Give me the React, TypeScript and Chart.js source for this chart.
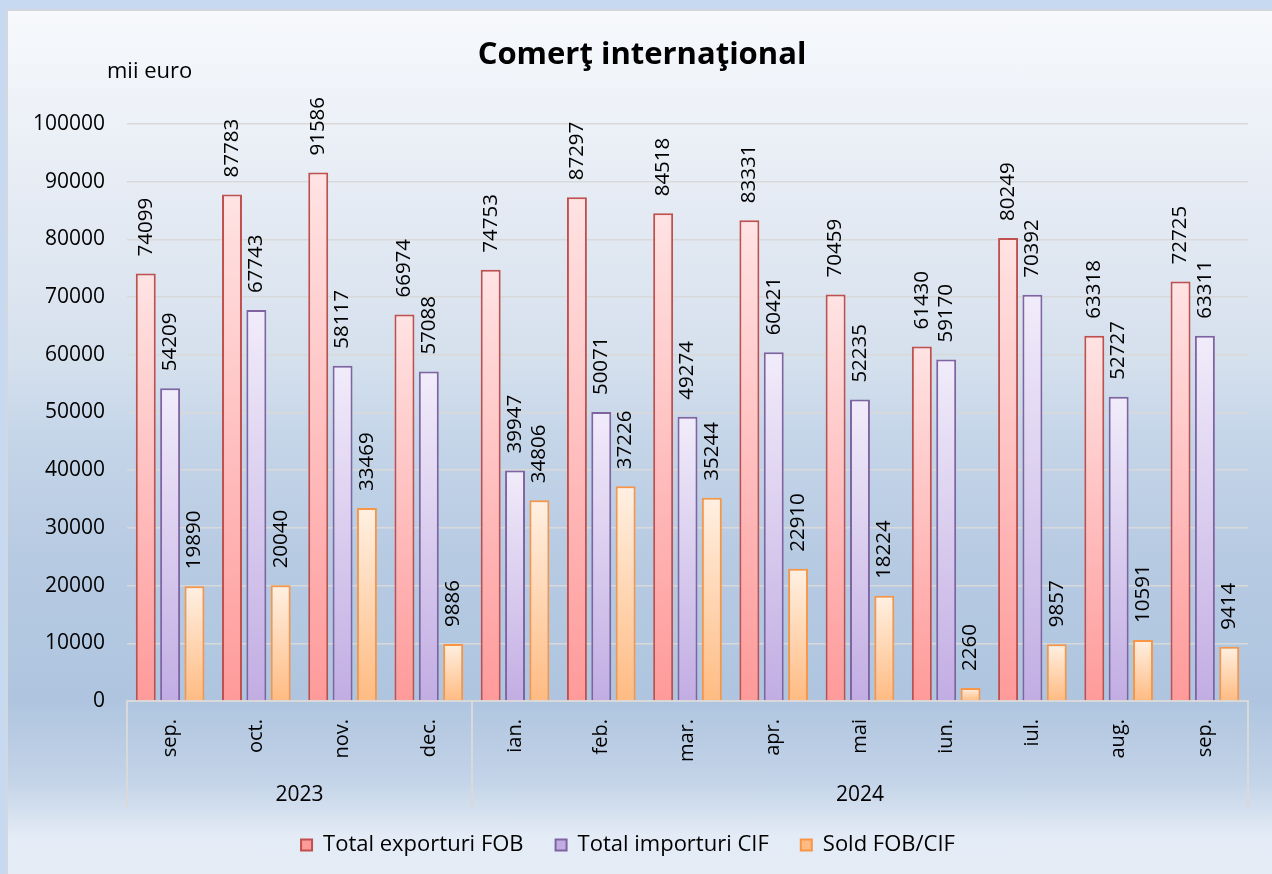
import React, { useEffect, useRef } from 'react';
import { Chart, registerables } from 'chart.js';

Chart.register(...registerables);

// ---- data ----
const months = ['sep.', 'oct.', 'nov.', 'dec.', 'ian.', 'feb.', 'mar.', 'apr.', 'mai', 'iun.', 'iul.', 'aug.', 'sep.'];
const years = ['2023', '2024'];
const monthsPerYear = [4, 9];
const exportsFOB = [74099, 87783, 91586, 66974, 74753, 87297, 84518, 83331, 70459, 61430, 80249, 63318, 72725];
const importsCIF = [54209, 67743, 58117, 57088, 39947, 50071, 49274, 60421, 52235, 59170, 70392, 52727, 63311];
const soldFOBCIF = [19890, 20040, 33469, 9886, 34806, 37226, 35244, 22910, 18224, 2260, 9857, 10591, 9414];
const seriesNames = ['Total exporturi FOB', 'Total importuri CIF', 'Sold FOB/CIF'];
const yMin = 0;
const yMax = 100000;
const yStep = 10000;
const titleText = 'Comerţ internaţional';
const unitText = 'mii euro';

const FONT = '"Open Sans", "Noto Sans", sans-serif';

function barGradient(top: string, bottom: string, fallback: string) {
  return (c: any) => {
    const chart = c.chart;
    const ys = chart.scales && chart.scales.y;
    if (c.type !== 'data' || !ys || !chart.chartArea) return fallback;
    const t = ys.getPixelForValue(c.raw);
    const b = ys.getPixelForValue(0);
    if (!isFinite(t) || !isFinite(b) || Math.abs(b - t) < 1) return fallback;
    const g = chart.ctx.createLinearGradient(0, t, 0, b);
    g.addColorStop(0, top);
    g.addColorStop(1, bottom);
    return g;
  };
}

const decorPlugin = {
  id: 'decor',
  afterDraw(chart: any) {
    const { ctx, chartArea } = chart;
    const x = chart.scales.x;
    ctx.save();
    // title
    ctx.fillStyle = '#000';
    ctx.font = `bold 31px ${FONT}`;
    ctx.textAlign = 'center';
    ctx.textBaseline = 'middle';
    ctx.fillText(titleText, 634, 44);
    // unit
    ctx.font = `22px ${FONT}`;
    ctx.textAlign = 'left';
    ctx.fillText(unitText, 99, 61);

    // year row
    const half = (x.getPixelForValue(1) - x.getPixelForValue(0)) / 2;
    const top = chartArea.bottom;
    const bottom = top + 107;
    ctx.strokeStyle = '#d9d9d9';
    ctx.lineWidth = 2;
    let start = 0;
    const edges: number[] = [x.getPixelForValue(0) - half];
    monthsPerYear.forEach((n, i) => {
      const left = x.getPixelForValue(start) - half;
      const right = x.getPixelForValue(start + n - 1) + half;
      edges.push(right);
      ctx.fillStyle = '#000';
      ctx.font = `21px ${FONT}`;
      ctx.textAlign = 'center';
      ctx.textBaseline = 'middle';
      ctx.fillText(years[i], (left + right) / 2, 784);
      start += n;
    });
    edges.forEach((e) => {
      ctx.beginPath();
      ctx.moveTo(Math.round(e), top);
      ctx.lineTo(Math.round(e), bottom);
      ctx.stroke();
    });

    // data labels
    ctx.fillStyle = '#000';
    ctx.font = `20.5px ${FONT}`;
    ctx.textAlign = 'left';
    ctx.textBaseline = 'middle';
    chart.data.datasets.forEach((ds: any, di: number) => {
      const meta = chart.getDatasetMeta(di);
      meta.data.forEach((bar: any, i: number) => {
        ctx.save();
        ctx.translate(bar.x, bar.y - 17);
        ctx.rotate(-Math.PI / 2);
        ctx.fillText(String(ds.data[i]), 0, 0);
        ctx.restore();
      });
    });
    ctx.restore();
  },
};

export default function App() {
  const ref = useRef<HTMLCanvasElement>(null);

  useEffect(() => {
    if (!ref.current) return;
    const chart = new Chart(ref.current, {
      type: 'bar',
      data: {
        labels: months,
        datasets: [
          {
            label: seriesNames[0],
            data: exportsFOB,
            backgroundColor: barGradient('#ffe3e3', '#ff9a9a', '#ffd2d2'),
            borderColor: '#c0504d',
            borderWidth: 2,
          },
          {
            label: seriesNames[1],
            data: importsCIF,
            backgroundColor: barGradient('#f1ecfa', '#c2ade3', '#e2d8f3'),
            borderColor: '#8064a2',
            borderWidth: 2,
          },
          {
            label: seriesNames[2],
            data: soldFOBCIF,
            backgroundColor: barGradient('#fff0e2', '#ffbb82', '#ffdcbc'),
            borderColor: '#f79646',
            borderWidth: 2,
          },
        ],
      },
      options: {
        responsive: false,
        animation: false,
        layout: { padding: { top: 113, left: 0, right: 24, bottom: 8 } },
        datasets: { bar: { categoryPercentage: 0.847, barPercentage: 0.82 } },
        scales: {
          x: {
            grid: { display: false, drawTicks: false },
            border: { display: true, color: '#d9d9d9', width: 2 },
            ticks: {
              autoSkip: false,
              minRotation: 90,
              maxRotation: 90,
              padding: 18,
              color: '#000',
              font: { family: FONT, size: 20 },
            },
            afterFit: (s: any) => {
              s.height = 101;
            },
          },
          y: {
            min: yMin,
            max: yMax,
            grid: { color: '#d9d9d9', lineWidth: 1.5, drawTicks: false },
            border: { display: false },
            ticks: {
              stepSize: yStep,
              padding: 22,
              color: '#000',
              font: { family: FONT, size: 21 },
              callback: (v: any) => String(v),
            },
            afterFit: (s: any) => {
              s.width = 119;
            },
          },
        },
        plugins: {
          title: { display: false },
          tooltip: { enabled: false },
          legend: {
            position: 'bottom',
            labels: {
              boxWidth: 11,
              boxHeight: 11,
              padding: 32,
              color: '#000',
              font: { family: FONT, size: 22 },
            },
          },
        },
      },
      plugins: [decorPlugin],
    });
    return () => chart.destroy();
  }, []);

  return (
    <div style={{ position: 'fixed', left: 0, top: 0, width: 1272, height: 874, background: '#c6d9f1', overflow: 'hidden' }}>
      <div
        style={{
          position: 'absolute',
          left: 6,
          top: 9,
          width: 1266,
          height: 865,
          boxSizing: 'border-box',
          borderLeft: '2px solid #d3d8de',
          borderTop: '2px solid #d3d8de',
          background:
            'linear-gradient(to bottom, #f7f9fc 0%, #e5ebf4 22%, #d5e0ed 40.6%, #c6d6e9 48.7%, #b6cae2 63.7%, #afc5df 79.9%, #c3d3e8 89%, #cddbec 91.4%, #dae4f1 93.8%, #e3ebf6 95.5%, #e5ecf6 100%)',
        }}
      >
        <canvas ref={ref} width={1264} height={863} style={{ display: 'block' }} />
      </div>
    </div>
  );
}
